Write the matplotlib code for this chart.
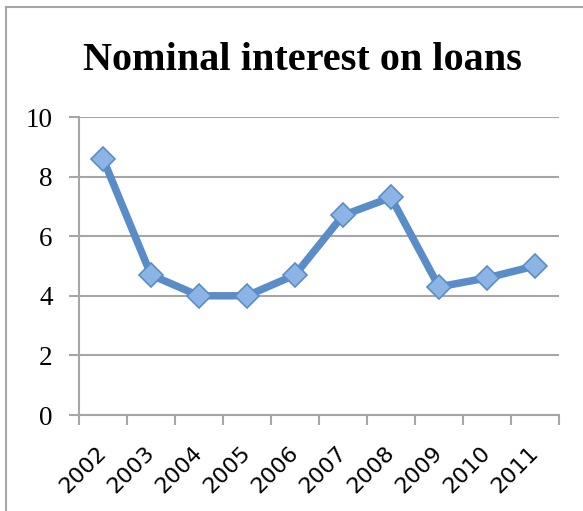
import numpy as np
import matplotlib
matplotlib.use('Agg')
from matplotlib import pyplot as plt
from matplotlib.lines import Line2D

####################################### data
years = ['2002', '2003', '2004', '2005', '2006', '2007', '2008', '2009', '2010', '2011']
rates = [8.6, 4.7, 4.0, 4.0, 4.7, 6.7, 7.3, 4.3, 4.6, 5.0]
y_ticks = [0, 2, 4, 6, 8, 10]

####################################### figure
fig = plt.figure(figsize=(5.83, 5.11), dpi=100)
ax = fig.add_axes([79/583, 1-415/511, 480/583, 298/511])

grid_c = '#a6a6a6'
x = np.arange(len(years))

ax.plot(x, rates, color='#5a8dc8', lw=5.4, solid_joinstyle='miter', zorder=3)
ax.plot(x, rates, ls='none', marker='D', ms=12.5, mfc='#8cb5e6', mec='#5a8dc8', mew=1.2, zorder=4)

ax.set_xlim(-0.5, len(years) - 0.5)
ax.set_ylim(0, 10)

# y axis
ax.set_yticks(y_ticks)
ax.set_yticklabels([str(v) for v in y_ticks], family='Liberation Serif', fontsize=19.5)
ax.yaxis.grid(True, color=grid_c, lw=1.5)
ax.tick_params(axis='y', length=7, width=1.5, color=grid_c, pad=12)

# x axis: ticks at category borders, labels at centres
ax.set_xticks(np.arange(-0.5, len(years), 1.0))
ax.set_xticklabels([])
ax.tick_params(axis='x', which='major', length=7, width=1.5, color=grid_c)
ax.set_xticks(x, minor=True)
ax.set_xticklabels(years, minor=True, rotation=45, ha='right', va='center',
                   rotation_mode='anchor', family='DejaVu Sans', fontsize=16)
ax.tick_params(axis='x', which='minor', length=0, pad=25)

for s in ['top', 'right']:
    ax.spines[s].set_visible(False)
for s in ['left', 'bottom']:
    ax.spines[s].set_color(grid_c)
    ax.spines[s].set_linewidth(1.5)
ax.set_axisbelow(True)

fig.text(302/583, 1-61/511, 'Nominal interest on loans', ha='center', va='center',
         family='Liberation Serif', fontweight='bold', fontsize=29)

# outer frame (top and left edges only visible)
fig.add_artist(Line2D([6/583, 1], [1-7/511, 1-7/511], color=grid_c, lw=1.5))
fig.add_artist(Line2D([6/583, 6/583], [0, 1-7/511], color=grid_c, lw=1.5))

fig.savefig('out.png', dpi=100)
